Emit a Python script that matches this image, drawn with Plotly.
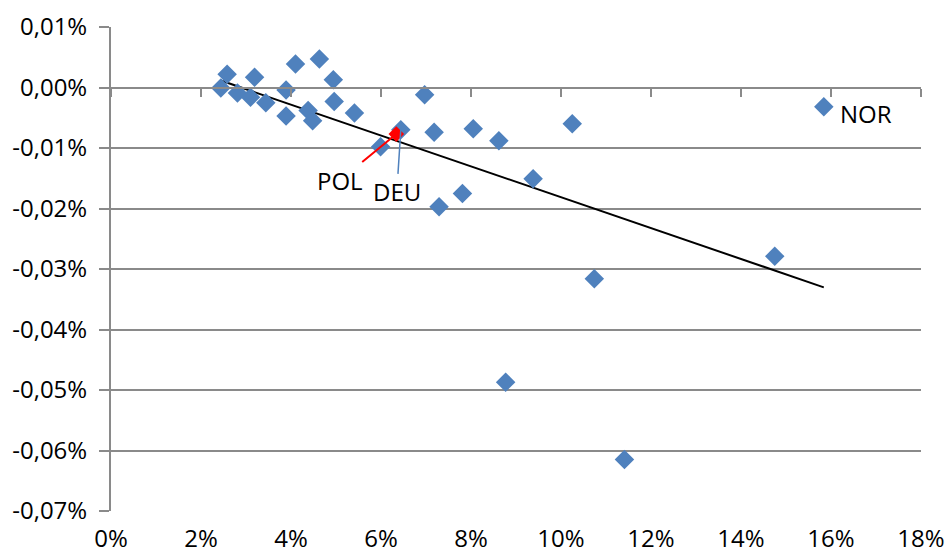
import numpy as np
import plotly.graph_objects as go

# ---- data (x: percent, y: percent) ----
country = ["", "", "", "", "", "", "", "", "", "", "", "", "", "", "",
           "", "DEU", "", "", "", "", "", "", "", "", "", "", "", "", "NOR"]
x_vals = [2.44, 2.58, 2.81, 3.19, 3.10, 3.44, 4.10, 4.63, 3.89, 4.94,
          3.89, 4.38, 4.48, 4.96, 5.41, 6.97, 6.44, 5.99, 7.18, 8.05,
          8.62, 9.38, 7.81, 7.29, 10.25, 10.74, 8.77, 11.41, 14.75, 15.84]
y_vals = [-0.0001, 0.0022, -0.0009, 0.0017, -0.0016, -0.0025, 0.0039, 0.0047, -0.0004, 0.0013,
          -0.0047, -0.0038, -0.0055, -0.0023, -0.0042, -0.0012, -0.0070, -0.0098, -0.0074, -0.0068,
          -0.0088, -0.0151, -0.0175, -0.0197, -0.0060, -0.0316, -0.0487, -0.0615, -0.0279, -0.0032]
pol_x = [6.34]
pol_y = [-0.0077]

x_ticks = [0, 2, 4, 6, 8, 10, 12, 14, 16, 18]
x_ticktext = ["0%", "2%", "4%", "6%", "8%", "10%", "12%", "14%", "16%", "18%"]
y_ticks = [0.01, 0.0, -0.01, -0.02, -0.03, -0.04, -0.05, -0.06, -0.07]
y_ticktext = ["0,01%", "0,00%", "-0,01%", "-0,02%", "-0,03%", "-0,04%", "-0,05%", "-0,06%", "-0,07%"]

# ---- trend line (linear fit over all points) ----
all_x = np.array(x_vals + pol_x)
all_y = np.array(y_vals + pol_y)
slope, intercept = np.polyfit(all_x, all_y, 1)
tx = np.array([all_x.min(), all_x.max()])
ty = slope * tx + intercept

BLUE = "#4F81BD"
GRID = "#8a8a8a"
FONT = "Open Sans"
FS = 24

fig = go.Figure()
# invisible trace to activate xaxis2 (tick marks on the zero line)
fig.add_trace(go.Scatter(x=[0, 18], y=[0, 0], xaxis="x2", mode="markers",
                         marker=dict(opacity=0), hoverinfo="skip"))
fig.add_trace(go.Scatter(x=tx, y=ty, mode="lines",
                         line=dict(color="black", width=2), hoverinfo="skip"))
fig.add_trace(go.Scatter(x=x_vals, y=y_vals, mode="markers",
                         marker=dict(symbol="diamond", size=15, color=BLUE),
                         text=country))
fig.add_trace(go.Scatter(x=pol_x, y=pol_y, mode="markers",
                         marker=dict(symbol="diamond", size=12, color="#FF0000")))

i_deu = country.index("DEU")
i_nor = country.index("NOR")
fig.add_annotation(x=pol_x[0], y=pol_y[0], text="POL", showarrow=True,
                   arrowhead=0, arrowcolor="#FF0000", arrowwidth=2,
                   axref="pixel", ayref="pixel", ax=-56, ay=46,
                   font=dict(family=FONT, size=FS, color="black"))
fig.add_annotation(x=x_vals[i_deu], y=y_vals[i_deu], text="DEU", showarrow=True,
                   arrowhead=0, arrowcolor=BLUE, arrowwidth=1.5,
                   axref="pixel", ayref="pixel", ax=-4, ay=62,
                   font=dict(family=FONT, size=FS, color="black"))
fig.add_annotation(x=x_vals[i_nor], y=y_vals[i_nor], text="NOR", showarrow=False,
                   xanchor="left", yanchor="middle", xshift=14, yshift=-7,
                   font=dict(family=FONT, size=FS, color="black"))

fig.update_layout(
    width=947, height=556,
    margin=dict(l=111, r=26, t=27, b=45, autoexpand=False),
    paper_bgcolor="white", plot_bgcolor="white",
    showlegend=False,
    font=dict(family=FONT, size=FS, color="black"),
    xaxis=dict(range=[0, 18], tickvals=x_ticks, ticktext=x_ticktext,
               showgrid=False, zeroline=False, showline=False, ticks="",
               ticklabelstandoff=11, automargin=False),
    xaxis2=dict(range=[0, 18], overlaying="x", anchor="free", position=0.875,
                side="bottom", tickvals=x_ticks, showticklabels=False,
                showgrid=False, zeroline=False, showline=True,
                linecolor=GRID, linewidth=2,
                ticks="outside", ticklen=8, tickwidth=2, tickcolor=GRID),
    yaxis=dict(range=[-0.07, 0.01], tickvals=y_ticks, ticktext=y_ticktext,
               showgrid=True, gridcolor=GRID, gridwidth=2,
               zeroline=False, showline=True, linecolor=GRID, linewidth=2,
               ticks="outside", ticklen=10, tickwidth=2, tickcolor=GRID,
               ticklabelstandoff=7, automargin=False),
)

fig.write_html("out.html")
